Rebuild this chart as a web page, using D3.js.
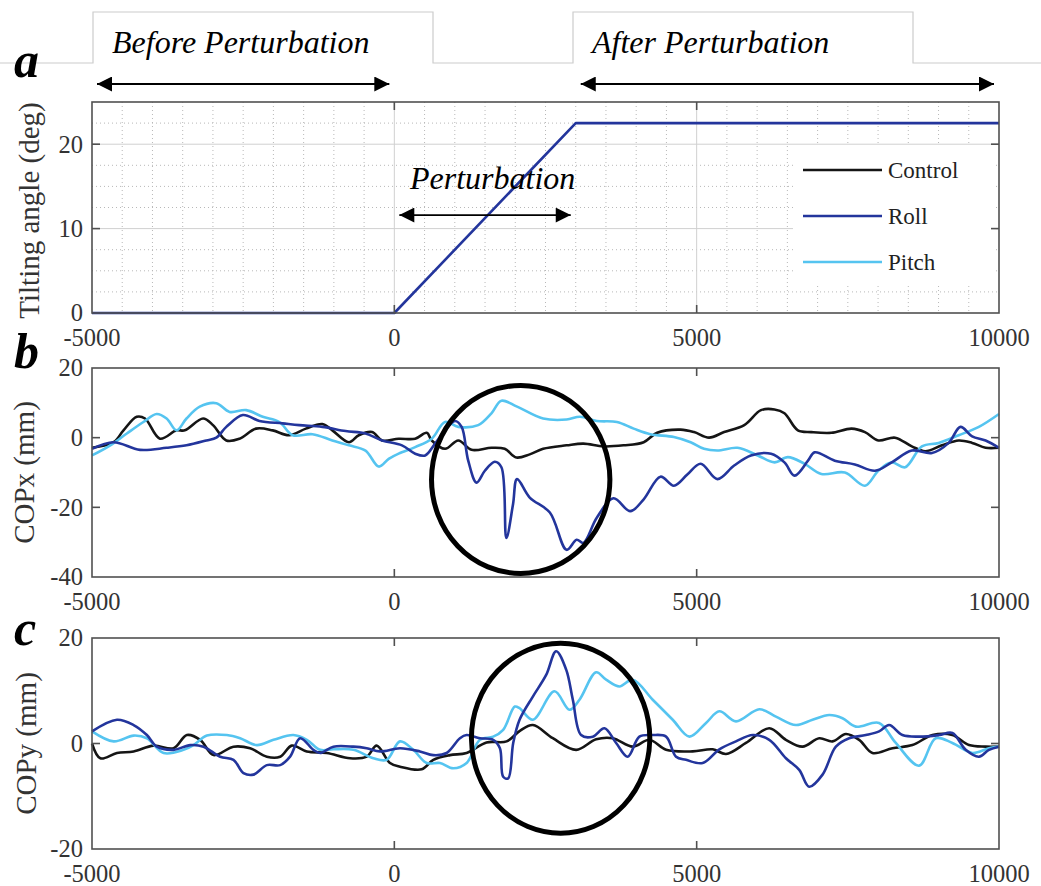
<!DOCTYPE html>
<html>
<head>
<meta charset="utf-8">
<script src="https://cdn.jsdelivr.net/npm/d3@7"></script>
<style>
  body { margin: 0; background: #fff; }
</style>
</head>
<body>
<svg width="1041" height="886" font-family="'Liberation Serif', 'Times New Roman', Times, serif"></svg>
<script>
// ---- data (time in ms) ----
var xTicks = [-5000, 0, 5000, 10000];
var seriesNames = ["Control", "Roll", "Pitch"];

var tiltRoll = [[-5000, 0], [0, 0], [3000, 22.5], [10000, 22.5]];

var copxControl = [[-5000,-2.9],[-4643,-1.3],[-4479,2.1],[-4260,6.0],[-4123,5.5],[-3876,-0.3],[-3602,2.1],[-3465,2.1],[-3163,5.5],[-2999,3.6],[-2779,-0.8],[-2560,-0.3],[-2286,2.6],[-2012,2.1],[-1738,0.7],[-1464,2.6],[-1190,3.9],[-1025,2.1],[-751,-1.3],[-587,0.7],[-367,1.6],[-203,-0.8],[71,-0.3],[345,-0.3],[537,1.4],[619,-0.8],[839,-3.2],[1058,-0.8],[1277,-3.5],[1606,-2.9],[1825,-3.2],[2018,-5.7],[2239,-4.8],[2461,-3.2],[2849,-2.2],[3126,-1.7],[3459,-2.5],[3791,-2.2],[4124,-1.3],[4346,1.4],[4734,2.3],[4956,1.6],[5205,0],[5454,1.6],[5787,3.6],[6064,7.9],[6286,8.1],[6452,7.0],[6674,2.1],[6896,1.6],[7228,1.4],[7561,2.6],[7783,1.6],[8004,-0.8],[8281,0],[8558,-2.5],[8780,-3.9],[9057,-2.2],[9334,-0.8],[9556,-1.5],[9778,-2.9],[10000,-2.9]];

var copxRoll = [[-5000,-3.2],[-4643,-1.3],[-4205,-3.5],[-3766,-2.9],[-3437,-2.2],[-3108,-0.8],[-2944,0],[-2779,3.1],[-2505,6.5],[-2231,4.8],[-1847,4.1],[-1573,3.6],[-1190,3.1],[-806,1.9],[-477,1.2],[-203,-0.8],[126,-2.2],[345,-4.6],[510,-5.1],[674,-1.7],[839,2.1],[1003,4.8],[1113,3.1],[1222,-6.6],[1360,-12.9],[1497,-9.5],[1661,-6.9],[1771,-8.5],[1853,-28.8],[1963,-19.1],[2030,-11.9],[2239,-17.2],[2572,-21.5],[2849,-32.2],[3015,-29.3],[3126,-30.2],[3348,-23.0],[3625,-17.4],[3902,-21.1],[4124,-17.7],[4401,-11.2],[4623,-13.8],[4845,-10.6],[5066,-7.5],[5343,-11.9],[5620,-8.0],[5897,-5.1],[6230,-4.6],[6452,-7.1],[6619,-10.9],[6841,-6.6],[6952,-4.2],[7284,-6.6],[7616,-7.7],[7949,-9.5],[8226,-7.1],[8558,-3.7],[8891,-4.4],[9168,-1.5],[9362,3.1],[9556,0.4],[9778,-0.8],[10000,-2.9]];

var copxPitch = [[-5000,-5.1],[-4698,-2.2],[-4424,1.2],[-4150,4.5],[-3931,6.8],[-3766,5.5],[-3602,2.1],[-3437,5.5],[-3218,8.9],[-2944,9.9],[-2725,7.4],[-2450,7.9],[-2176,6.0],[-1902,4.5],[-1683,0.7],[-1354,1.0],[-1025,-0.8],[-751,-2.2],[-477,-3.7],[-258,-8.3],[-93,-6.1],[71,-4.6],[345,-2.7],[619,-0.3],[839,4.5],[1058,3.1],[1387,3.6],[1606,7.0],[1771,10.6],[2030,8.9],[2461,5.5],[2849,5.2],[3071,6.0],[3348,4.8],[3681,4.5],[3958,2.6],[4235,1.0],[4623,0.2],[4900,-1.3],[5122,-3.2],[5343,-3.7],[5676,-2.9],[6009,-5.1],[6286,-7.1],[6508,-5.6],[6785,-7.5],[7062,-10.4],[7450,-10.0],[7783,-13.8],[8004,-9.5],[8226,-7.1],[8447,-8.5],[8725,-2.5],[9002,-1.5],[9334,0.7],[9667,3.1],[10000,6.8]];

var copyControl = [[-5000,0],[-4862,-2.8],[-4587,-1.8],[-4312,-1.5],[-3982,-0.4],[-3651,-0.9],[-3431,1.6],[-3211,0.7],[-2990,-2.2],[-2660,-0.6],[-2385,-0.9],[-2109,-2.5],[-1889,-2.5],[-1696,-0.4],[-1448,-1.5],[-1118,-1.8],[-732,-2.8],[-457,-2.5],[-292,-0.4],[-72,-3.7],[94,-4.4],[452,-4.9],[644,-3.1],[920,-2.2],[1195,-1.8],[1525,0.2],[1856,0.4],[2076,2.4],[2291,3.5],[2621,1.0],[3007,-1.2],[3337,0.8],[3613,1.0],[3943,-0.6],[4218,0.7],[4494,-1.2],[4934,-1.5],[5265,-1.1],[5485,-2.0],[5815,0.1],[6201,2.9],[6476,0.7],[6751,-0.6],[7027,1.0],[7247,0.4],[7467,1.8],[7687,0.7],[7907,-1.8],[8238,-0.9],[8568,-0.3],[8899,1.6],[9229,1.6],[9504,-0.3],[9780,-0.6],[10000,-0.6]];

var copyRoll = [[-5000,2.3],[-4587,4.5],[-4312,3.5],[-4092,1.6],[-3927,-0.6],[-3651,-1.2],[-3376,-0.3],[-3156,-0.6],[-2880,-2.5],[-2660,-3.1],[-2495,-5.6],[-2330,-5.9],[-2109,-4.1],[-1889,-4.1],[-1724,-2.5],[-1558,1.0],[-1338,-1.2],[-1228,-1.8],[-1008,-0.6],[-677,-0.6],[-457,-0.9],[-237,-1.5],[94,-0.9],[424,-1.5],[644,-2.2],[865,-1.8],[1085,1.0],[1195,1.6],[1415,1.0],[1635,0.7],[1746,-0.9],[1800,-6.3],[1883,-6.6],[1966,0.1],[2071,4.5],[2291,8.9],[2511,13.0],[2676,17.5],[2842,14.0],[2952,8.3],[3089,1.6],[3282,1.3],[3475,2.9],[3668,0.1],[3860,-2.5],[4053,1.3],[4273,1.6],[4494,1.3],[4659,-2.5],[4824,-3.1],[5099,-3.7],[5375,-1.1],[5650,0.4],[5926,1.6],[6201,0.7],[6476,-2.8],[6696,-5.0],[6861,-8.2],[7082,-5.9],[7302,-0.6],[7522,1.0],[7797,1.6],[8017,2.3],[8183,3.5],[8403,1.6],[8678,1.3],[9009,1.6],[9229,2.0],[9449,-1.2],[9669,-2.5],[9834,-1.2],[10000,-0.6]];

var copyPitch = [[-5000,2.3],[-4642,0.4],[-4312,1.5],[-4092,1.0],[-3816,-1.8],[-3486,-1.2],[-3321,-0.3],[-3100,1.5],[-2770,1.6],[-2550,1.0],[-2274,-0.3],[-1999,0.7],[-1669,1.6],[-1448,0.7],[-1228,-1.2],[-1008,-1.1],[-677,-1.2],[-347,-2.8],[-127,-3.1],[94,0.4],[314,-1.2],[534,-3.7],[754,-3.7],[975,-4.7],[1195,-3.7],[1415,0.7],[1635,1.3],[1800,2.6],[1993,7.0],[2071,6.7],[2291,4.5],[2649,9.9],[2897,6.4],[3062,8.3],[3337,13.5],[3502,12.1],[3723,10.8],[3943,12.1],[4273,8.3],[4604,4.5],[4879,1.3],[5155,3.9],[5375,6.1],[5650,4.2],[6036,6.5],[6311,5.1],[6641,3.5],[6916,4.5],[7192,5.4],[7412,4.8],[7632,3.2],[8017,3.9],[8293,0.1],[8678,-4.2],[8953,1.0],[9229,0.1],[9559,-1.8],[9834,-0.9],[10000,-0.6]];

// highlighted regions (centre t, centre value, half-width t, half-height value)
var circleB = [2090, -12, 1475, 27];
var circleC = [2750, 1, 1475, 18];

// ---- drawing ----
var svg = d3.select("svg");
var colors = { Control: "#151515", Roll: "#23359c", Pitch: "#55c4f0" };
var axisColor = "#505050";

var x = d3.scaleLinear().domain([-5000, 10000]).range([92, 999]);

function panel(cfg) {
  var y = d3.scaleLinear().domain(cfg.domain).range([cfg.bottom, cfg.top]);
  var g = svg.append("g");

  if (cfg.grid) {
    var minorX = d3.range(-4500, 10000, 500).filter(function(d) { return d % 5000 != 0; });
    var minorY = d3.range(2.5, 25, 2.5).filter(function(d) { return d % 10 != 0; });
    g.selectAll(".mx").data(minorX).enter().append("line")
      .attr("x1", x).attr("x2", x).attr("y1", cfg.top).attr("y2", cfg.bottom)
      .attr("stroke", "#b8b8b8").attr("stroke-dasharray", "1,3");
    g.selectAll(".my").data(minorY).enter().append("line")
      .attr("y1", y).attr("y2", y).attr("x1", x(-5000)).attr("x2", x(10000))
      .attr("stroke", "#b8b8b8").attr("stroke-dasharray", "1,3");
    g.selectAll(".gx").data([0, 5000]).enter().append("line")
      .attr("x1", x).attr("x2", x).attr("y1", cfg.top).attr("y2", cfg.bottom)
      .attr("stroke", "#d0d0d0");
    g.selectAll(".gy").data([10, 20]).enter().append("line")
      .attr("y1", y).attr("y2", y).attr("x1", x(-5000)).attr("x2", x(10000))
      .attr("stroke", "#d0d0d0");
  }

  if (cfg.legend) {
    // white legend box hides grid behind it
    g.append("rect").attr("x", 793).attr("y", 145).attr("width", 203).attr("height", 138)
      .attr("fill", "#fff");
  }

  var line = d3.line().x(function(d) { return x(d[0]); }).y(function(d) { return y(d[1]); })
    .curve(cfg.smooth ? d3.curveCatmullRom.alpha(0.5) : d3.curveLinear);
  cfg.series.forEach(function(s) {
    g.append("path").datum(s.data).attr("d", line)
      .attr("fill", "none").attr("stroke", colors[s.name])
      .attr("stroke-width", 2.6).attr("stroke-linejoin", "round");
  });

  // box + mirrored inward ticks
  g.append("rect").attr("x", x(-5000)).attr("y", cfg.top)
    .attr("width", x(10000) - x(-5000)).attr("height", cfg.bottom - cfg.top)
    .attr("fill", "none").attr("stroke", axisColor).attr("stroke-width", 1.6);
  [0, 5000].forEach(function(t) {
    g.append("line").attr("x1", x(t)).attr("x2", x(t)).attr("y1", cfg.bottom).attr("y2", cfg.bottom - 8)
      .attr("stroke", axisColor).attr("stroke-width", 1.6);
    g.append("line").attr("x1", x(t)).attr("x2", x(t)).attr("y1", cfg.top).attr("y2", cfg.top + 8)
      .attr("stroke", axisColor).attr("stroke-width", 1.6);
  });
  cfg.yTicks.slice(1, -1).concat(cfg.innerY || []).forEach(function(v) {
    g.append("line").attr("x1", x(-5000)).attr("x2", x(-5000) + 8).attr("y1", y(v)).attr("y2", y(v))
      .attr("stroke", axisColor).attr("stroke-width", 1.6);
    g.append("line").attr("x1", x(10000)).attr("x2", x(10000) - 8).attr("y1", y(v)).attr("y2", y(v))
      .attr("stroke", axisColor).attr("stroke-width", 1.6);
  });

  // tick labels
  g.selectAll(".xl").data(xTicks).enter().append("text")
    .attr("x", x).attr("y", cfg.bottom + 33)
    .attr("text-anchor", "middle").attr("font-size", 24.5).attr("fill", "#333")
    .text(function(d) { return d; });
  g.selectAll(".yl").data(cfg.yTicks).enter().append("text")
    .attr("x", 83).attr("y", y).attr("dy", "0.34em")
    .attr("text-anchor", "end").attr("font-size", 24.5).attr("fill", "#333")
    .text(function(d) { return d; });

  g.append("text")
    .attr("transform", "translate(" + cfg.labelX + "," + ((cfg.top + cfg.bottom) / 2 + cfg.labelDy) + ") rotate(-90)")
    .attr("text-anchor", "middle").attr("dy", "0.35em").attr("font-size", 29).attr("fill", "#333")
    .text(cfg.label);

  g.append("text").attr("x", 14).attr("y", cfg.letterY)
    .attr("font-size", 50).attr("font-weight", "bold").attr("font-style", "italic")
    .attr("fill", "#000").text(cfg.letter);

  if (cfg.circle) {
    var c = cfg.circle;
    g.append("ellipse")
      .attr("cx", x(c[0])).attr("cy", y(c[1]))
      .attr("rx", x(c[0] + c[2]) - x(c[0])).attr("ry", y(c[1]) - y(c[1] + c[3]))
      .attr("fill", "none").attr("stroke", "#000").attr("stroke-width", 5);
  }
  return y;
}

// header tabs
svg.append("path")
  .attr("d", "M0,63H93V12H433V63H573V12H913V63H1041")
  .attr("fill", "none").attr("stroke", "#cccccc").attr("stroke-width", 1.2);

svg.append("defs").append("marker")
  .attr("id", "head").attr("viewBox", "0 0 10 10").attr("refX", 10).attr("refY", 5)
  .attr("markerUnits", "userSpaceOnUse").attr("markerWidth", 16).attr("markerHeight", 15)
  .attr("orient", "auto-start-reverse")
  .append("path").attr("d", "M0,0L10,5L0,10Z").attr("fill", "#000");

function arrow(t0, t1, yy, w) {
  svg.append("line").attr("x1", x(t0) + 5).attr("x2", x(t1) - 5).attr("y1", yy).attr("y2", yy)
    .attr("stroke", "#000").attr("stroke-width", w)
    .attr("marker-start", "url(#head)").attr("marker-end", "url(#head)");
}

var yA = panel({
  top: 102, bottom: 313, domain: [0, 25], yTicks: [0, 10, 20], innerY: [20],
  grid: true, legend: true, letter: "a", letterY: 77,
  label: "Tilting angle (deg)", labelX: 29, labelDy: 3,
  series: [{ name: "Roll", data: tiltRoll }]
});

panel({
  top: 368, bottom: 577, domain: [-40, 20], yTicks: [-40, -20, 0, 20], smooth: true,
  letter: "b", letterY: 368, label: "COPx (mm)", labelX: 24, labelDy: 0,
  series: [{ name: "Control", data: copxControl }, { name: "Pitch", data: copxPitch }, { name: "Roll", data: copxRoll }],
  circle: circleB
});

panel({
  top: 638, bottom: 849, domain: [-20, 20], yTicks: [-20, 0, 20], smooth: true,
  letter: "c", letterY: 645, label: "COPy (mm)", labelX: 26, labelDy: 0,
  series: [{ name: "Control", data: copyControl }, { name: "Pitch", data: copyPitch }, { name: "Roll", data: copyRoll }],
  circle: circleC
});

// header texts and arrows
svg.append("text").attr("x", 112).attr("y", 53).attr("font-size", 32).attr("font-style", "italic")
  .text("Before Perturbation");
svg.append("text").attr("x", 592).attr("y", 53).attr("font-size", 32).attr("font-style", "italic")
  .text("After Perturbation");
arrow(-5000, 0, 84, 2);
arrow(3000, 10000, 84, 2);
svg.append("text").attr("x", 410).attr("y", 189).attr("font-size", 32).attr("font-style", "italic")
  .text("Perturbation");
arrow(0, 3000, yA(11.6), 1.6);

// legend
var lg = svg.append("g").selectAll("g").data(seriesNames).enter().append("g")
  .attr("transform", function(d, i) { return "translate(803," + (170 + i * 46) + ")"; });
lg.append("line").attr("x1", 0).attr("x2", 79).attr("stroke", function(d) { return colors[d]; })
  .attr("stroke-width", 2.6);
lg.append("text").attr("x", 85).attr("dy", "0.33em").attr("font-size", 23).attr("fill", "#222")
  .text(function(d) { return d; });
</script>
</body>
</html>
